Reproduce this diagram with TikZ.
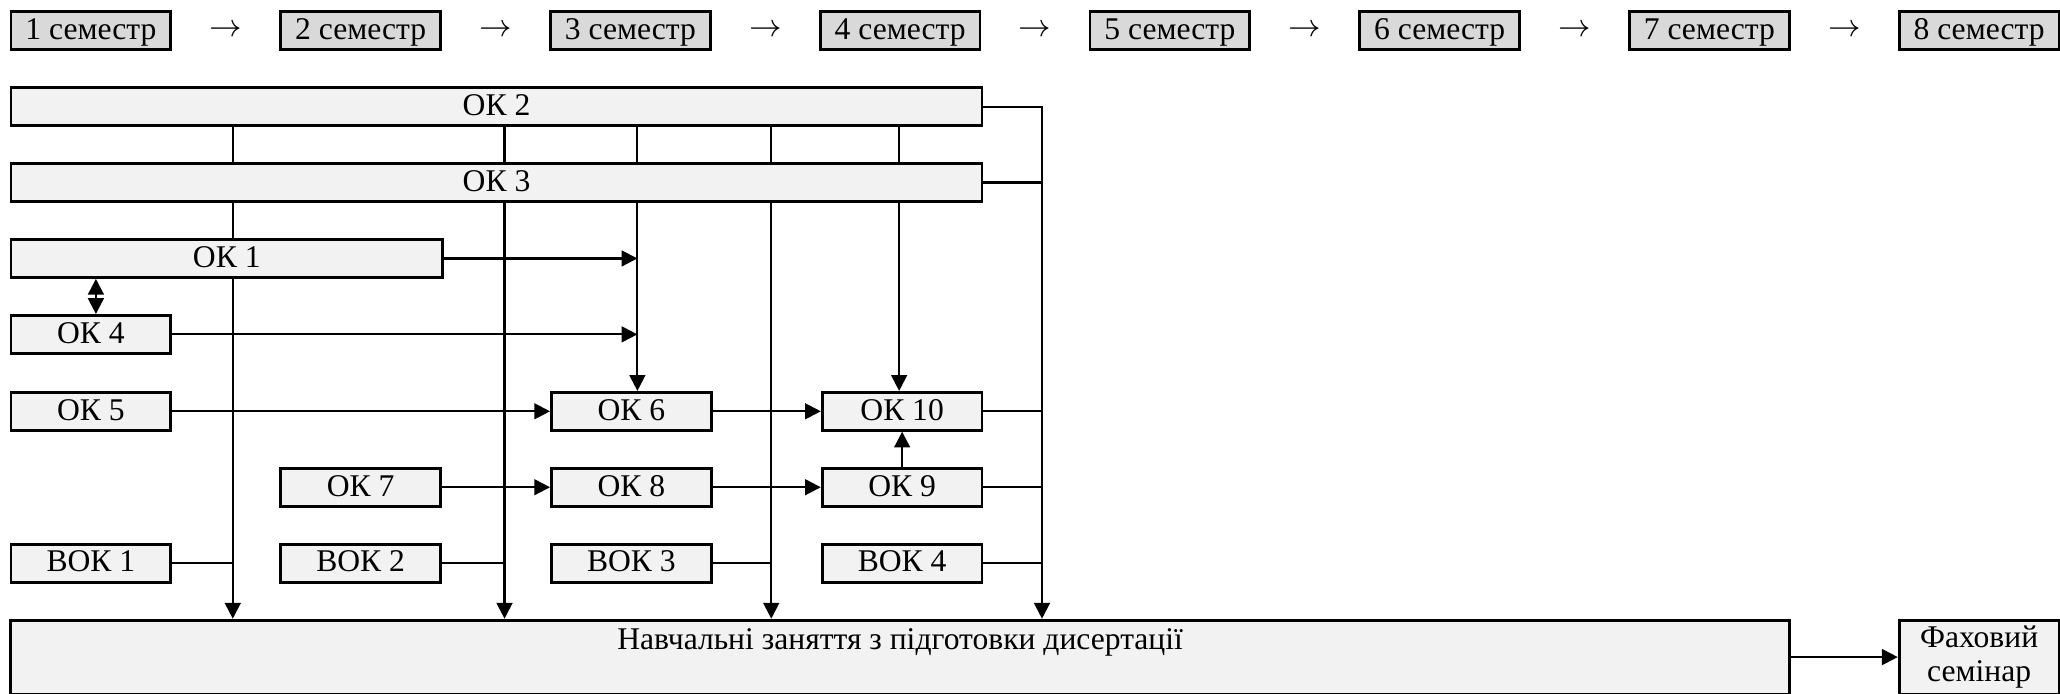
\documentclass[tikz,border=0pt]{standalone}
\usepackage{fontspec}
\setmainfont{Liberation Serif}
\usetikzlibrary{arrows.meta,calc}

\begin{document}
\begin{tikzpicture}[
    font=\fontsize{9}{9.7}\selectfont,
    base/.style={draw, line width=0.8pt, inner sep=0pt, minimum height=0.38cm},
    box/.style={base, fill=gray!10, minimum width=1.6cm, text height=0.7em, text depth=0.2em},
    sem/.style={box, fill=gray!30},
    link/.style={line width=0.6pt},
    arr/.style={link, -{Triangle[length=4.5pt, width=4.5pt]}},
    darr/.style={link, {Triangle[length=4.5pt, width=4.5pt]}-{Triangle[length=4.5pt, width=4.5pt]}}
]
    \useasboundingbox (0,0) rectangle (20.62,6.937);

    % семестри
    \foreach \i in {1,...,8} {
        \node[sem] (s\i) at ({0.91+2.7*(\i-1)},6.63) {\i\ семестр};
    }
    \foreach \i [count=\j from 2] in {1,...,7} {
        \node (a\i) at ($(s\i)!0.5!(s\j)$) {$\rightarrow$};
    }

    % ОК 2, ОК 3 і ОК 1
    \node[box, minimum width=9.72cm] (ok2) at (4.97,5.87) {ОК 2};
    \node[box, minimum width=9.72cm] (ok3) at (4.97,5.11) {ОК 3};
    \node[box, minimum width=4.32cm] (ok1) at (2.27,4.35) {ОК 1};

    % малі блоки
    \node[box] (ok4) at (0.91,3.59) {ОК 4};
    \node[box] (ok5) at (0.91,2.82) {ОК 5};
    \node[box] (ok6) at (6.32,2.82) {ОК 6};
    \node[box] (ok10) at (9.03,2.82) {ОК 10};
    \node[box] (ok7) at (3.61,2.06) {ОК 7};
    \node[box] (ok8) at (6.32,2.06) {ОК 8};
    \node[box] (ok9) at (9.03,2.06) {ОК 9};
    \foreach \n/\x in {1/0.91, 2/3.61, 3/6.32, 4/9.03}
        \node[box] (vok\n) at (\x,1.30) {ВОК \n};

    % навчальні заняття і семінар
    \node[base, fill=gray!10, minimum width=17.81cm, minimum height=0.74cm,
          text height=0.25cm, text depth=0.41cm] (nz) at (9.01,0.36)
          {Навчальні заняття з підготовки дисертації};
    \node[base, fill=gray!10, minimum width=1.6cm, minimum height=0.74cm,
          align=center] (fs) at (19.81,0.36) {Фаховий\\семінар};

    % вертикальні лінії
    \coordinate (la) at (2.33,0);
    \coordinate (lb) at (5.05,0);
    \coordinate (lc) at (6.38,0);
    \coordinate (ld) at (7.72,0);
    \coordinate (le) at (9.00,0);
    \coordinate (bus) at (10.43,0);
    \foreach \l in {la,lb,lc,ld,le}
        \draw[link] (ok2.south -| \l) -- (ok3.north -| \l);
    \draw[link] (ok3.south -| la) -- (ok1.north -| la);
    \draw[arr] (ok1.south -| la) -- (nz.north -| la);
    \draw[arr] (ok3.south -| lb) -- (nz.north -| lb);
    \draw[arr] (ok3.south -| lc) -- (ok6.north -| lc);
    \draw[arr] (ok3.south -| ld) -- (nz.north -| ld);
    \draw[arr] (ok3.south -| le) -- (ok10.north -| le);
    \draw[arr] (ok2.east) -- (ok2.east -| bus) -- (nz.north -| bus);
    \foreach \n in {ok3,ok10,ok9,vok4}
        \draw[link] (\n.east) -- (\n.east -| bus);
    \draw[link] (vok1.east) -- (vok1.east -| la);
    \draw[link] (vok2.east) -- (vok2.east -| lb);
    \draw[link] (vok3.east) -- (vok3.east -| ld);

    % горизонтальні стрілки
    \draw[arr] (ok1.east) -- (ok1.east -| lc);
    \draw[arr] (ok4.east) -- (ok4.east -| lc);
    \draw[arr] (ok5) -- (ok6);
    \draw[arr] (ok6) -- (ok10);
    \draw[arr] (ok7) -- (ok8);
    \draw[arr] (ok8) -- (ok9);
    \draw[arr] (ok9) -- (ok10);
    \draw[darr] ([xshift=0.05cm]ok4.north) -- ([xshift=0.05cm]ok4.north |- ok1.south);
    \draw[arr] (nz.east) -- (fs.west);
\end{tikzpicture}
\end{document}
